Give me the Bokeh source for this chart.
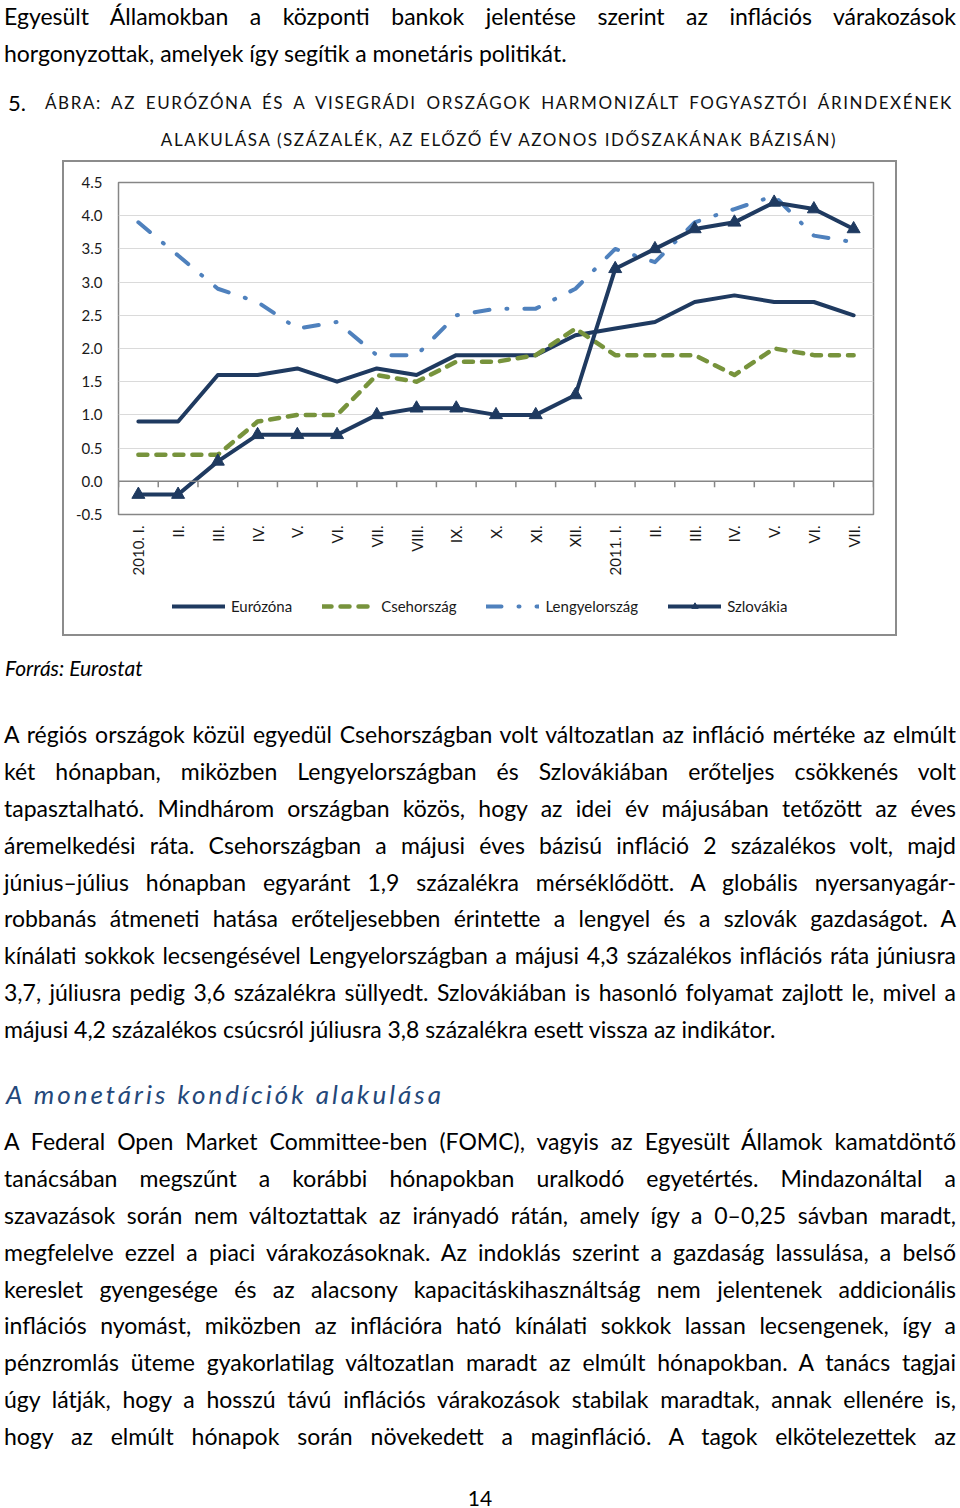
import math
from bokeh.plotting import figure
from bokeh.models import (Range1d, FixedTicker, NumeralTickFormatter, Legend,
                          LegendItem, Span, Div)
from bokeh.layouts import column
from bokeh.embed import file_html
from bokeh.resources import INLINE

# ---------------- data ----------------
months = ["2010. I.", "II.", "III.", "IV.", "V.", "VI.", "VII.", "VIII.", "IX.",
          "X.", "XI.", "XII.", "2011. I.", "II.", "III.", "IV.", "V.", "VI.", "VII."]
eurozone = [0.9, 0.9, 1.6, 1.6, 1.7, 1.5, 1.7, 1.6, 1.9, 1.9, 1.9, 2.2,
            2.3, 2.4, 2.7, 2.8, 2.7, 2.7, 2.5]
czech = [0.4, 0.4, 0.4, 0.9, 1.0, 1.0, 1.6, 1.5, 1.8, 1.8, 1.9, 2.3,
         1.9, 1.9, 1.9, 1.6, 2.0, 1.9, 1.9]
poland = [3.9, 3.4, 2.9, 2.7, 2.3, 2.4, 1.9, 1.9, 2.5, 2.6, 2.6, 2.9,
          3.5, 3.3, 3.9, 4.1, 4.3, 3.7, 3.6]
slovakia = [-0.2, -0.2, 0.3, 0.7, 0.7, 0.7, 1.0, 1.1, 1.1, 1.0, 1.0, 1.3,
            3.2, 3.5, 3.8, 3.9, 4.2, 4.1, 3.8]
series_names = ["Eurózóna", "Csehország", "Lengyelország", "Szlovákia"]
y_ticks = [-0.5, 0.0, 0.5, 1.0, 1.5, 2.0, 2.5, 3.0, 3.5, 4.0, 4.5]

intro_lines = [
    "Egyesült Államokban a központi bankok jelentése szerint az inflációs várakozások",
    "horgonyzottak, amelyek így segítik a monetáris politikát.",
]
title_num = "5."
title_lines = [
    "ÁBRA: AZ EURÓZÓNA ÉS A VISEGRÁDI ORSZÁGOK HARMONIZÁLT FOGYASZTÓI ÁRINDEXÉNEK",
    "ALAKULÁSA (SZÁZALÉK, AZ ELŐZŐ ÉV AZONOS IDŐSZAKÁNAK BÁZISÁN)",
]
source_text = "Forrás: Eurostat"
para1 = [
    "A régiós országok közül egyedül Csehországban volt változatlan az infláció mértéke az elmúlt",
    "két hónapban, miközben Lengyelországban és Szlovákiában erőteljes csökkenés volt",
    "tapasztalható. Mindhárom országban közös, hogy az idei év májusában tetőzött az éves",
    "áremelkedési ráta. Csehországban a májusi éves bázisú infláció 2 százalékos volt, majd",
    "június–július hónapban egyaránt 1,9 százalékra mérséklődött. A globális nyersanyagár-",
    "robbanás átmeneti hatása erőteljesebben érintette a lengyel és a szlovák gazdaságot. A",
    "kínálati sokkok lecsengésével Lengyelországban a májusi 4,3 százalékos inflációs ráta júniusra",
    "3,7, júliusra pedig 3,6 százalékra süllyedt. Szlovákiában is hasonló folyamat zajlott le, mivel a",
    "májusi 4,2 százalékos csúcsról júliusra 3,8 százalékra esett vissza az indikátor.",
]
heading = "A monetáris kondíciók alakulása"
para2 = [
    "A Federal Open Market Committee-ben (FOMC), vagyis az Egyesült Államok kamatdöntő",
    "tanácsában megszűnt a korábbi hónapokban uralkodó egyetértés. Mindazonáltal a",
    "szavazások során nem változtattak az irányadó rátán, amely így a 0–0,25 sávban maradt,",
    "megfelelve ezzel a piaci várakozásoknak. Az indoklás szerint a gazdaság lassulása, a belső",
    "kereslet gyengesége és az alacsony kapacitáskihasználtság nem jelentenek addicionális",
    "inflációs nyomást, miközben az inflációra ható kínálati sokkok lassan lecsengenek, így a",
    "pénzromlás üteme gyakorlatilag változatlan maradt az elmúlt hónapokban. A tanács tagjai",
    "úgy látják, hogy a hosszú távú inflációs várakozások stabilak maradtak, annak ellenére is,",
    "hogy az elmúlt hónapok során növekedett a maginfláció. A tagok elkötelezettek az",
]
page_number = "14"

FONT = "Lato, 'Open Sans', sans-serif"
NAVY = "#1f3a60"
GREEN = "#77933c"
BLUE = "#4f81bd"
PAGE_W = 960

STYLE_EU = dict(line_color=NAVY, line_width=4, line_join="round", line_cap="round")
STYLE_CZ = dict(line_color=GREEN, line_width=4.5, line_dash="9 9",
                line_join="round", line_cap="round")
STYLE_PL = dict(line_color=BLUE, line_width=4, line_dash="15 17 1 17",
                line_join="round", line_cap="round")
STYLE_SK = dict(line_color=NAVY, line_width=4, line_join="round", line_cap="round")
STYLE_SK_M = dict(marker="triangle", size=13, fill_color=NAVY, line_color=NAVY)


def line_html(text, top, left=4, width=952, align="justify", size=23, extra=""):
    return (f'<div style="position:absolute;left:{left}px;top:{top}px;width:{width}px;'
            f'height:30px;line-height:30px;font-family:{FONT};font-size:{size}px;color:#000;'
            f'text-align:{align};text-align-last:{align};white-space:nowrap;{extra}">{text}</div>')


# ---------------- top text block ----------------
TOP_H = 158
top_parts = []
top_parts.append(line_html(intro_lines[0], 1))
top_parts.append(line_html(intro_lines[1], 38, align="left"))
top_parts.append(line_html(title_num, 88, left=8, width=40, align="left", size=22))
title_style = "letter-spacing:1.6px;color:#111;"
top_parts.append(line_html(title_lines[0], 88, left=45, width=908, size=17, extra=title_style))
top_parts.append(line_html(title_lines[1], 125, left=45, width=908, align="center", size=17,
                           extra=title_style))
div_top = Div(text=f'<div style="position:relative;width:{PAGE_W}px;height:{TOP_H}px;">'
              + "".join(top_parts) + "</div>",
              width=PAGE_W, height=TOP_H, margin=0)

# ---------------- chart ----------------
x = list(range(len(months)))
p = figure(width=831, height=416, x_range=Range1d(-0.5, len(months) - 0.5),
           y_range=Range1d(y_ticks[0], y_ticks[-1]), output_backend="svg",
           toolbar_location=None, min_border_left=54, min_border_right=22,
           min_border_top=20, min_border_bottom=63, margin=0)
p.background_fill_color = "white"
p.border_fill_color = "white"
p.outline_line_color = "#868686"
p.outline_line_width = 1.5
p.xgrid.grid_line_color = None
p.ygrid.grid_line_color = "#dadada"
p.ygrid.grid_line_width = 1.2
p.ygrid.ticker = FixedTicker(ticks=y_ticks)

p.yaxis.ticker = FixedTicker(ticks=y_ticks)
p.yaxis.formatter = NumeralTickFormatter(format="0.0")
p.yaxis.axis_line_color = None
p.yaxis.major_tick_line_color = None
p.yaxis.minor_tick_line_color = None
p.yaxis.major_label_standoff = 10
p.yaxis.major_label_text_font = "Lato"
p.yaxis.major_label_text_font_size = "15px"
p.yaxis.major_label_text_color = "#1a1a1a"

p.xaxis.ticker = FixedTicker(ticks=x)
p.xaxis.major_label_overrides = {i: m for i, m in enumerate(months)}
p.xaxis.major_label_orientation = math.pi / 2
p.xaxis.axis_line_color = None
p.xaxis.major_tick_line_color = None
p.xaxis.minor_tick_line_color = None
p.xaxis.major_label_standoff = 5
p.xaxis.major_label_text_font = "Lato"
p.xaxis.major_label_text_font_size = "15px"
p.xaxis.major_label_text_color = "#1a1a1a"

# category axis line crossing at zero, with tick marks between categories
p.add_layout(Span(location=0, dimension="width", line_color="#868686", line_width=1.5))
bounds = [i - 0.5 for i in range(len(months) + 1)]
p.segment(x0=bounds, y0=[0] * len(bounds), x1=bounds, y1=[-0.09] * len(bounds),
          line_color="#868686", line_width=1.5)

p.line(x, eurozone, **STYLE_EU)
p.line(x, czech, **STYLE_CZ)
p.line(x, poland, **STYLE_PL)
p.line(x, slovakia, **STYLE_SK)
p.scatter(x, slovakia, **STYLE_SK_M)

# ---------------- legend strip (inside the same chart box) ----------------
# same series drawn out of view (y range far above the data) so only the legend shows
lf = figure(width=831, height=56, x_range=Range1d(-0.5, len(months) - 0.5),
            y_range=Range1d(100, 101), output_backend="svg", toolbar_location=None,
            x_axis_type=None, y_axis_type=None, min_border=0, margin=0)
lf.outline_line_color = None
lf.grid.grid_line_color = None
lf.background_fill_color = "white"
lf.border_fill_color = "white"
k_eu = lf.line(x, eurozone, **STYLE_EU)
k_cz = lf.line(x, czech, **STYLE_CZ)
k_pl = lf.line(x, poland, **STYLE_PL)
k_sk = lf.line(x, slovakia, **STYLE_SK)
k_sk_m = lf.scatter(x, slovakia, **STYLE_SK_M)
legend = Legend(items=[LegendItem(label=series_names[0], renderers=[k_eu]),
                       LegendItem(label=series_names[1], renderers=[k_cz]),
                       LegendItem(label=series_names[2], renderers=[k_pl]),
                       LegendItem(label=series_names[3], renderers=[k_sk, k_sk_m])],
                orientation="horizontal", location="center_left", padding=0, margin=54,
                spacing=30, glyph_width=53, glyph_height=16, label_standoff=6,
                border_line_color=None, background_fill_alpha=0,
                label_text_font="Lato", label_text_font_size="15px",
                label_text_color="#1a1a1a")
lf.add_layout(legend)

chart_box = column(p, lf, spacing=0, margin=(4, 0, 16, 64),
                   styles={"box-shadow": "0 0 0 2px #8c8c8c"})

# ---------------- bottom text block ----------------
BOT_H = 856
bot_parts = []
bot_parts.append(line_html(source_text, 3, left=5, align="left", size=21,
                           extra="font-style:italic;"))
for i, t in enumerate(para1):
    bot_parts.append(line_html(t, 69 + round(i * 36.9),
                               align="left" if i == len(para1) - 1 else "justify"))
bot_parts.append(line_html(heading, 429, left=6, align="left", size=26,
                           extra="font-style:italic;letter-spacing:3px;color:#24487a;"))
for i, t in enumerate(para2):
    bot_parts.append(line_html(t, 476 + round(i * 36.9)))
bot_parts.append(line_html(page_number, 833, left=0, width=PAGE_W, align="center", size=21))
div_bot = Div(text=f'<div style="position:relative;width:{PAGE_W}px;height:{BOT_H}px;">'
              + "".join(bot_parts) + "</div>",
              width=PAGE_W, height=BOT_H, margin=0)

layout = column(div_top, chart_box, div_bot, spacing=0)
open("out.html", "w", encoding="utf-8").write(file_html(layout, INLINE))
